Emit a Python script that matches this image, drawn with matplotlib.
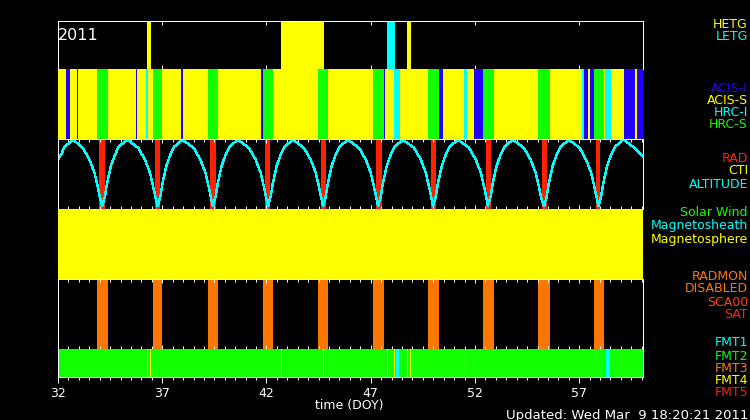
import matplotlib
matplotlib.use('Agg')
import matplotlib.pyplot as plt
from matplotlib.ticker import FixedLocator, MultipleLocator

# time range (DOY 2011)
t_start, t_end = 32.0, 60.06
major_ticks = [32, 37, 42, 47, 52, 57]

# gratings
hetg = [(36.27, 36.46), (42.70, 44.74), (48.74, 48.93)]
letg = [(47.78, 48.16)]

# instruments (ACIS-S fills the rest)
acis_s = [(t_start, t_end)]
acis_i = [(32.38, 32.58), (32.91, 32.96), (35.74, 35.79), (37.90, 38.00),
          (41.74, 41.83), (47.64, 47.68), (50.27, 50.47), (51.95, 52.38),
          (57.23, 57.42), (57.52, 57.71), (59.15, 59.67), (59.77, 60.06)]
hrc_s = [(33.87, 34.40), (36.56, 36.99), (39.19, 39.67), (41.83, 42.31),
         (44.47, 44.95), (47.11, 47.64), (49.75, 50.27), (52.38, 52.91),
         (55.02, 55.60), (57.71, 58.19)]
hrc_i = [(36.22, 36.32), (48.12, 48.40), (51.47, 51.62), (57.13, 57.23),
         (58.24, 58.52)]

# radiation zones
rad = [(33.97, 34.25), (36.65, 36.89), (39.29, 39.58), (41.93, 42.17),
       (44.61, 44.85), (47.25, 47.54), (49.89, 50.13), (52.53, 52.77),
       (55.21, 55.45), (57.80, 58.02)]

# altitude (scaled 0-1)
alt_t = [32.00, 32.14, 32.33, 32.73, 33.19, 33.51, 33.75, 33.91, 34.02,
         34.12, 34.25, 34.35, 34.54, 34.73, 34.92, 35.32, 35.85, 36.17, 36.41, 36.57, 36.68,
         36.78, 36.91, 37.01, 37.20, 37.39, 37.58, 37.98, 38.51, 38.83, 39.07, 39.23, 39.34,
         39.43, 39.56, 39.66, 39.85, 40.04, 40.23, 40.63, 41.16, 41.48, 41.72, 41.88, 41.99,
         42.07, 42.20, 42.30, 42.49, 42.68, 42.87, 43.27, 43.80, 44.12, 44.36, 44.52, 44.63,
         44.71, 44.84, 44.94, 45.13, 45.32, 45.51, 45.91, 46.44, 46.76, 47.00, 47.16, 47.27,
         47.35, 47.48, 47.58, 47.77, 47.96, 48.15, 48.55, 49.08, 49.40, 49.64, 49.80, 49.91,
         49.99, 50.12, 50.22, 50.41, 50.60, 50.79, 51.19, 51.72, 52.04, 52.28, 52.44, 52.55,
         52.62, 52.75, 52.85, 53.04, 53.23, 53.42, 53.82, 54.35, 54.67, 54.91, 55.07, 55.18,
         55.31, 55.44, 55.54, 55.73, 55.92, 56.11, 56.51, 57.02, 57.33, 57.57, 57.73, 57.84,
         57.92, 58.05, 58.15, 58.34, 58.53, 58.72, 59.12, 59.65, 60.06]
alt_v = [0.71, 0.78, 0.90, 1.00, 0.88, 0.71, 0.52, 0.31, 0.15,
         0.03, 0.17, 0.36, 0.62, 0.78, 0.90, 1.00, 0.88, 0.71, 0.52, 0.31, 0.15,
         0.03, 0.17, 0.36, 0.62, 0.78, 0.90, 1.00, 0.88, 0.71, 0.52, 0.31, 0.15,
         0.03, 0.17, 0.36, 0.62, 0.78, 0.90, 1.00, 0.88, 0.71, 0.52, 0.31, 0.15,
         0.03, 0.17, 0.36, 0.62, 0.78, 0.90, 1.00, 0.88, 0.71, 0.52, 0.31, 0.15,
         0.03, 0.17, 0.36, 0.62, 0.78, 0.90, 1.00, 0.88, 0.71, 0.52, 0.31, 0.15,
         0.03, 0.17, 0.36, 0.62, 0.78, 0.90, 1.00, 0.88, 0.71, 0.52, 0.31, 0.15,
         0.03, 0.17, 0.36, 0.62, 0.78, 0.90, 1.00, 0.88, 0.71, 0.52, 0.31, 0.15,
         0.03, 0.17, 0.36, 0.62, 0.78, 0.90, 1.00, 0.88, 0.71, 0.52, 0.31, 0.15,
         0.03, 0.17, 0.36, 0.62, 0.78, 0.90, 1.00, 0.88, 0.71, 0.52, 0.31, 0.15,
         0.03, 0.17, 0.36, 0.62, 0.78, 0.90, 1.00, 0.88, 0.76]

# magnetosphere region
magnetosphere = [(t_start, t_end)]

# radmon disabled
radmon_off = [(33.87, 34.40), (36.56, 36.99), (39.19, 39.67), (41.83, 42.31),
              (44.47, 44.95), (47.11, 47.64), (49.75, 50.27), (52.38, 52.91),
              (55.02, 55.60), (57.71, 58.19)]

# telemetry formats (FMT2 elsewhere)
fmt2 = [(t_start, t_end)]
fmt4 = [(36.25, 36.30), (36.41, 36.46), (42.71, 42.76), (44.70, 44.75),
        (47.77, 47.82), (48.11, 48.16), (48.73, 48.78), (48.86, 48.91)]
fmt1 = [(48.20, 48.36), (51.53, 51.58), (58.28, 58.47)]

YEL, CYA, BLU, GRN = '#ffff00', '#00ffff', '#2200ff', '#11ff00'
RED, ORA, SCA = '#ff2200', '#ff7700', '#ff4400'

plt.rcParams['patch.antialiased'] = False
fig = plt.figure(figsize=(7.5, 4.2), dpi=100, facecolor='black')

L, W = 58 / 750, (643 - 58) / 750


def panel(ytop, ybot):
    ax = fig.add_axes([L, 1 - ybot / 420, W, (ybot - ytop) / 420])
    ax.set_facecolor('black')
    ax.set_xlim(t_start, t_end)
    ax.set_ylim(0, 1)
    ax.set_yticks([])
    ax.xaxis.set_major_locator(FixedLocator(major_ticks))
    ax.xaxis.set_minor_locator(MultipleLocator(0.5))
    ax.tick_params(axis='x', which='both', colors='white', labelbottom=False,
                   direction='in', top=True, bottom=True, width=0.72)
    ax.tick_params(axis='x', which='major', length=3)
    ax.tick_params(axis='x', which='minor', length=2)
    for s in ax.spines.values():
        s.set_color('white')
        s.set_linewidth(0.72)
    return ax


def spans(ax, segs, color):
    for a, b in segs:
        ax.axvspan(a, b, color=color, lw=0)


ax1 = panel(21, 69)
spans(ax1, hetg, YEL)
spans(ax1, letg, CYA)
ax1.tick_params(axis='x', which='minor', length=0)
ax1.text(0.0, 0.70, '2011', transform=ax1.transAxes, color='white',
         fontsize=11.5, va='center', ha='left')

ax2 = panel(69, 139)
spans(ax2, acis_s, YEL)
spans(ax2, acis_i, BLU)
spans(ax2, hrc_s, GRN)
spans(ax2, hrc_i, CYA)
for s in ax2.spines.values():
    s.set_visible(False)
ax2.tick_params(axis='x', which='both', length=0)

ax3 = panel(139, 209)
spans(ax3, rad, RED)
ax3.plot(alt_t, alt_v, color=CYA, lw=1.0, antialiased=False)
ax3.set_ylim(-0.01, 1.01)

ax4 = panel(209, 279)
spans(ax4, magnetosphere, YEL)
for s in ax4.spines.values():
    s.set_visible(False)
ax4.tick_params(axis='x', which='both', length=0)

ax5 = panel(279, 349)
spans(ax5, radmon_off, ORA)

ax6 = panel(349, 377)
spans(ax6, fmt2, GRN)
spans(ax6, fmt4, YEL)
spans(ax6, fmt1, CYA)
ax6.tick_params(axis='x', which='both', direction='out', top=False,
                labelbottom=True, labelcolor='white', labelsize=9, pad=3)
ax6.tick_params(axis='x', which='major', length=4)
ax6.spines['top'].set_visible(False)

fig.text(349 / 750, 1 - 406 / 420, 'time (DOY)', color='white', fontsize=9,
         ha='center', va='center')
fig.text(748 / 750, 1 - 415 / 420, 'Updated: Wed Mar  9 18:20:21 2011',
         color='white', fontsize=9.5, ha='right', va='center')

labels = [('HETG', 24.5, YEL), ('LETG', 37, CYA),
          ('ACIS-I', 88, BLU), ('ACIS-S', 100, YEL), ('HRC-I', 113, CYA),
          ('HRC-S', 125, GRN),
          ('RAD', 158, RED), ('CTI', 171, YEL), ('ALTITUDE', 184, CYA),
          ('Solar Wind', 213, GRN), ('Magnetosheath', 226, CYA),
          ('Magnetosphere', 240, YEL),
          ('RADMON', 276, ORA), ('DISABLED', 289, ORA), ('SCA00', 302, SCA),
          ('SAT', 314, RED),
          ('FMT1', 343, CYA), ('FMT2', 356, GRN), ('FMT3', 368, ORA),
          ('FMT4', 381, YEL), ('FMT5', 393, RED)]
for txt, yc, col in labels:
    fig.text(748 / 750, 1 - yc / 420, txt, color=col, fontsize=9,
             ha='right', va='center')

fig.savefig('out.png', dpi=100, facecolor='black')
